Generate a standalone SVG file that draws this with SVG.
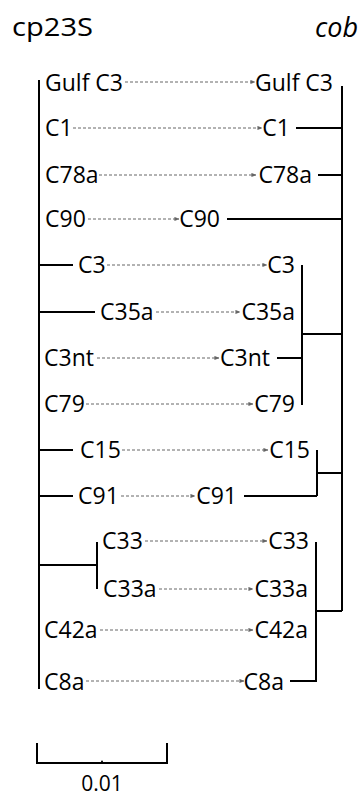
<svg xmlns="http://www.w3.org/2000/svg" width="361" height="796" viewBox="0 0 361 796">
<style>
text{font-family:"Open Sans","DejaVu Sans",sans-serif;font-size:23px;fill:#000}
.r{text-anchor:end}
.tree{stroke:#000;stroke-width:2;fill:none}
.arr{stroke:#666;stroke-width:1;stroke-dasharray:3,2;fill:none;marker-end:url(#ah)}
</style>
<defs>
<marker id="ah" viewBox="0 0 6 6" refX="5.5" refY="3" markerWidth="5" markerHeight="5" markerUnits="userSpaceOnUse" orient="auto">
<path d="M0,0.5 L6,3 L0,5.5 z" fill="#666"/>
</marker>
</defs>
<rect width="361" height="796" fill="#fff"/>
<g id="titles">
<text x="12" y="36" textLength="81" lengthAdjust="spacingAndGlyphs" style="font-size:26px">cp23S</text>
<text x="358" y="37" class="r" style="font-style:italic;font-size:27px">cob</text>
</g>
<g id="tree-left">
<path class="tree" d="M39,80 V689 M39,265 H73 M39,312 H95 M39,450 H73 M39,496 H73 M39,565 H97 M97,542 V589"/>
</g>
<g id="tree-right">
<path class="tree" d="M342,86 V611 M296,128 H342 M318,175 H342 M227,219 H342 M302,265 V405 M302,334 H342 M277,358 H302 M317,450 V496 M244,496 H317 M317,473 H342 M316,542 V682 M316,611 H342 M290,681 H316"/>
</g>
<g id="left-labels">
<g id="L-GulfC3"><text x="45" y="91">Gulf C3</text></g>
<g id="L-C1"><text x="45" y="136">C1</text></g>
<g id="L-C78a"><text x="45" y="183">C78a</text></g>
<g id="L-C90"><text x="45" y="227">C90</text></g>
<g id="L-C3"><text x="78" y="273">C3</text></g>
<g id="L-C35a"><text x="100" y="320">C35a</text></g>
<g id="L-C3nt"><text x="44" y="366">C3nt</text></g>
<g id="L-C79"><text x="44" y="412">C79</text></g>
<g id="L-C15"><text x="80" y="458">C15</text></g>
<g id="L-C91"><text x="78" y="504">C91</text></g>
<g id="L-C33"><text x="102" y="549">C33</text></g>
<g id="L-C33a"><text x="103" y="597">C33a</text></g>
<g id="L-C42a"><text x="44" y="638">C42a</text></g>
<g id="L-C8a"><text x="44" y="690">C8a</text></g>
</g>
<g id="right-labels">
<g id="R-GulfC3"><text class="r" x="333" y="91">Gulf C3</text></g>
<g id="R-C1"><text class="r" x="290" y="136">C1</text></g>
<g id="R-C78a"><text class="r" x="312" y="183">C78a</text></g>
<g id="R-C90"><text class="r" x="220" y="227">C90</text></g>
<g id="R-C3"><text class="r" x="295" y="273">C3</text></g>
<g id="R-C35a"><text class="r" x="295" y="320">C35a</text></g>
<g id="R-C3nt"><text class="r" x="270" y="366">C3nt</text></g>
<g id="R-C79"><text class="r" x="295" y="412">C79</text></g>
<g id="R-C15"><text class="r" x="310" y="458">C15</text></g>
<g id="R-C91"><text class="r" x="237" y="504">C91</text></g>
<g id="R-C33"><text class="r" x="309" y="549">C33</text></g>
<g id="R-C33a"><text class="r" x="308" y="597">C33a</text></g>
<g id="R-C42a"><text class="r" x="308" y="638">C42a</text></g>
<g id="R-C8a"><text class="r" x="284" y="690">C8a</text></g>
</g>
<g id="connectors">
<path class="arr" d="M125,82 H255"/>
<path class="arr" d="M73,128 H262"/>
<path class="arr" d="M99,175 H256"/>
<path class="arr" d="M88,219 H179"/>
<path class="arr" d="M107,265 H267"/>
<path class="arr" d="M156,312 H240"/>
<path class="arr" d="M97,358 H219"/>
<path class="arr" d="M86,404 H253"/>
<path class="arr" d="M122,450 H268"/>
<path class="arr" d="M121,496 H195"/>
<path class="arr" d="M145,541 H267"/>
<path class="arr" d="M159,589 H253"/>
<path class="arr" d="M100,630 H253"/>
<path class="arr" d="M86,681 H244"/>
</g>
<g id="scale-bar">
<path class="tree" d="M37,743 V763 H167 V743"/>
<circle cx="102" cy="761.5" r="1" fill="#000"/>
<text x="102" y="791" style="text-anchor:middle;font-size:21px">0.01</text>
</g>
</svg>
